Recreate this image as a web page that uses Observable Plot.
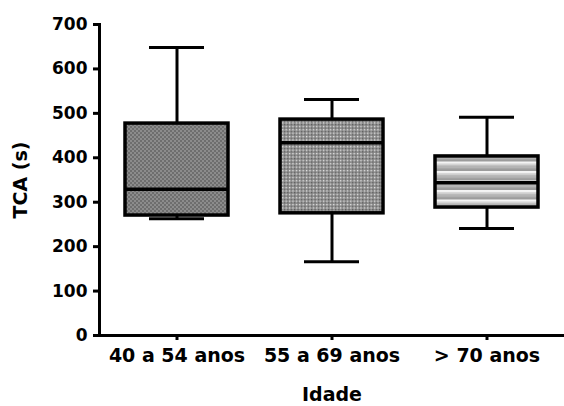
<!DOCTYPE html>
<html>
<head>
<meta charset="utf-8">
<script src="https://cdn.jsdelivr.net/npm/d3@7"></script>
<script src="https://cdn.jsdelivr.net/npm/@observablehq/plot@0.6"></script>
<style>
  html, body { margin: 0; padding: 0; background: #fff; }
  svg { display: block; }
</style>
</head>
<body>
<div id="chart"></div>
<script>
const categories = ["40 a 54 anos", "55 a 69 anos", "> 70 anos"];
const whiskerLow  = [263, 166, 241];
const q1          = [270, 275, 288];
const median      = [329, 434, 344];
const q3          = [477, 486, 403];
const whiskerHigh = [648, 531, 491];
const patterns    = ["url(#pat-check)", "url(#pat-dots)", "url(#pat-stripes)"];
const yTicks      = [0, 100, 200, 300, 400, 500, 600, 700];

const data = categories.map((c, i) => ({
  cat: c, lo: whiskerLow[i], q1: q1[i], med: median[i], q3: q3[i], hi: whiskerHigh[i], pat: patterns[i]
}));

const font = "'DejaVu Sans', sans-serif";

const chart = Plot.plot({
  width: 564,
  height: 406,
  marginLeft: 99,
  marginRight: 0,
  marginTop: 24,
  marginBottom: 71,
  style: { fontFamily: font, fontWeight: "bold", color: "#000", background: "#fff" },
  x: { domain: categories, padding: 0, axis: null },
  y: { domain: [0, 700], axis: null },
  color: { type: "identity" },
  marks: [
    // whiskers
    Plot.ruleX(data, { x: "cat", y1: "lo", y2: "q1", stroke: "#000", strokeWidth: 3 }),
    Plot.ruleX(data, { x: "cat", y1: "q3", y2: "hi", stroke: "#000", strokeWidth: 3 }),
    Plot.tickY(data, { x: "cat", y: "lo", stroke: "#000", strokeWidth: 3, insetLeft: 50, insetRight: 50 }),
    Plot.tickY(data, { x: "cat", y: "hi", stroke: "#000", strokeWidth: 3, insetLeft: 50, insetRight: 50 }),
    // boxes
    Plot.barY(data, { x: "cat", y1: "q1", y2: "q3", fill: "pat", stroke: "#000", strokeWidth: 3.5, insetLeft: 26, insetRight: 26 }),
    Plot.tickY(data, { x: "cat", y: "med", stroke: "#000", strokeWidth: 3.5, insetLeft: 26, insetRight: 26 }),
    // axes
    Plot.axisY({ ticks: yTicks, tickSize: 6, tickPadding: 6, strokeWidth: 3, fontSize: 17, fontWeight: "bold",
                 label: "TCA (s)", labelAnchor: "center", labelArrow: "none", labelOffset: 86 }),
    Plot.axisX({ tickSize: 5, tickPadding: 8, strokeWidth: 3, fontSize: 19, fontWeight: "bold",
                 label: "Idade", labelAnchor: "center", labelArrow: "none", labelOffset: 65 }),
    Plot.ruleY([0], { stroke: "#000", strokeWidth: 3 }),
    Plot.frame({ anchor: "left", stroke: "#000", strokeWidth: 3 })
  ]
});

// pattern definitions for the box fills
const ns = "http://www.w3.org/2000/svg";
const defs = document.createElementNS(ns, "defs");
defs.innerHTML = `
  <pattern id="pat-check" patternUnits="userSpaceOnUse" width="4" height="4">
    <rect width="4" height="4" fill="#8c8c8c"/>
    <rect width="2" height="2" fill="#6e6e6e"/>
    <rect x="2" y="2" width="2" height="2" fill="#6e6e6e"/>
  </pattern>
  <pattern id="pat-dots" patternUnits="userSpaceOnUse" width="3.4" height="3.4">
    <rect width="3.4" height="3.4" fill="#8e8e8e"/>
    <rect x="0" y="0" width="1.2" height="1.2" fill="#e8e8e8"/>
    <rect x="1.7" y="1.7" width="1.2" height="1.2" fill="#5a5a5a"/>
  </pattern>
  <pattern id="pat-stripes" patternUnits="userSpaceOnUse" width="10" height="9.5">
    <rect width="10" height="9.5" fill="#b4b4b4"/>
    <rect y="0" width="10" height="2.5" fill="#f4f4f4"/>
    <rect y="2.5" width="10" height="1.5" fill="#d2d2d2"/>
    <rect y="7" width="10" height="2.5" fill="#9c9c9c"/>
  </pattern>`;
chart.insertBefore(defs, chart.firstChild);

// axis title font size
chart.querySelectorAll('g[aria-label="y-axis label"] text, g[aria-label="x-axis label"] text').forEach(t => {
  t.setAttribute("font-size", 19);
  t.setAttribute("font-weight", "bold");
});

document.getElementById("chart").appendChild(chart);
</script>
</body>
</html>
